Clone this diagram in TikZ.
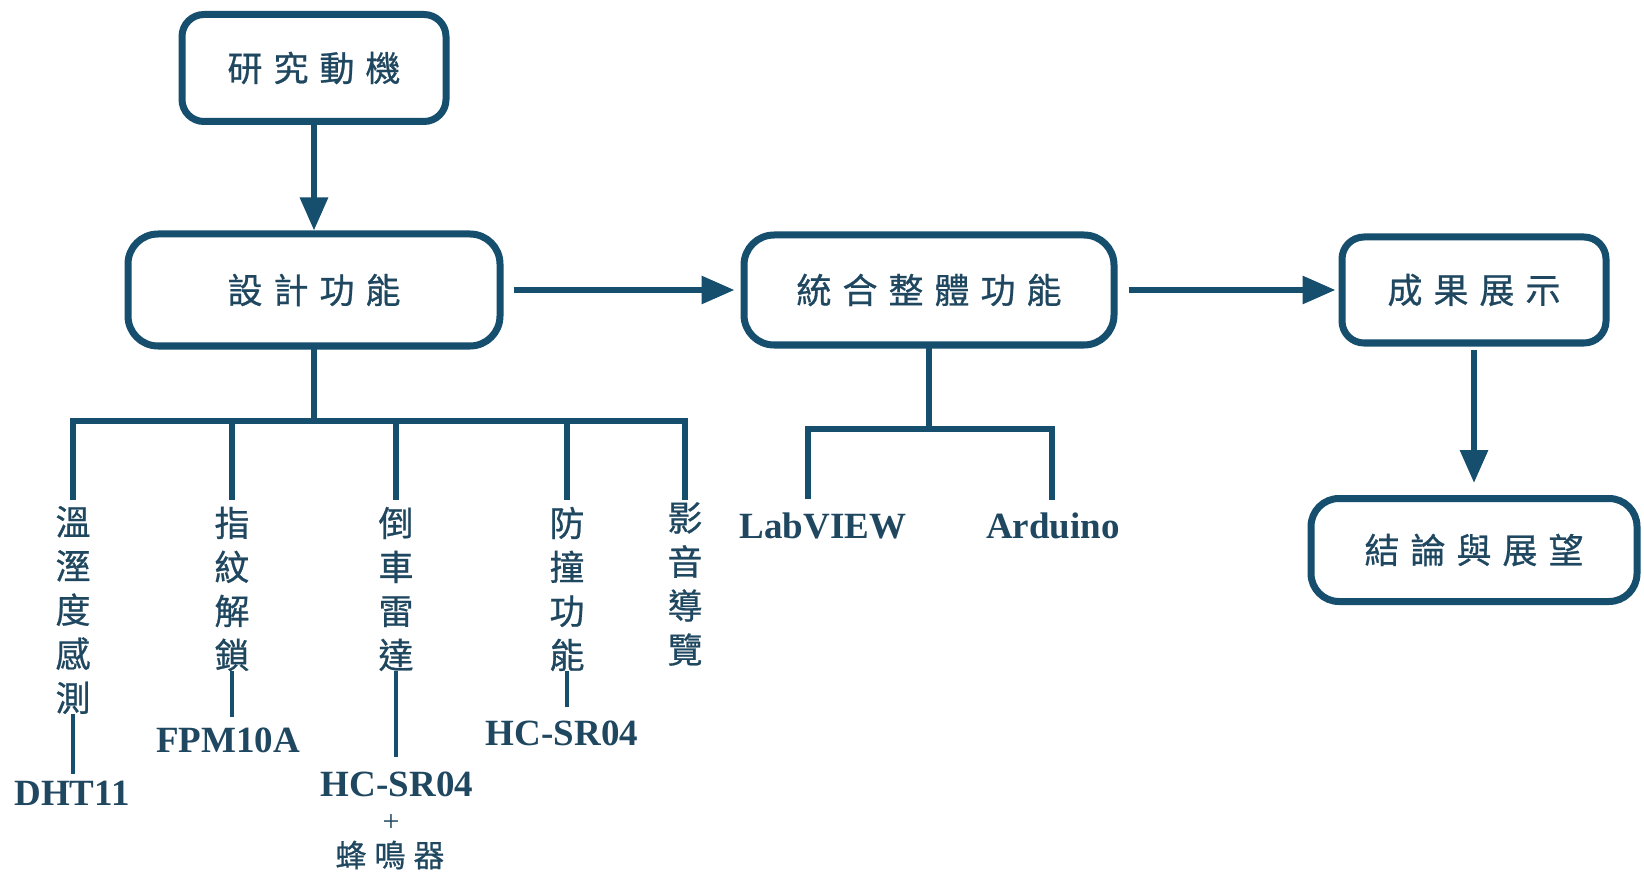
\documentclass[tikz,border=0pt]{standalone}
\usepackage{fontspec}
\setmainfont{Liberation Serif}
\newfontfamily\cjk[FakeBold=0.7]{Noto Sans CJK TC}
\usetikzlibrary{arrows.meta}
\definecolor{ink}{HTML}{164E6E}
\definecolor{txt}{HTML}{1F4760}
\newcommand\gp{\hspace{11pt}}
\begin{document}
\begin{tikzpicture}[x=1pt,y=-1pt,
  box/.style={draw=ink, line width=7pt, rounded corners=22pt, fill=white, text=txt, font=\cjk\fontsize{35}{35}\selectfont, inner sep=0pt},
  arr/.style={draw=ink, line width=6pt, -{Triangle[length=33pt,width=27pt]}},
  tree/.style={draw=ink, line width=6pt, line cap=rect},
  thinln/.style={draw=ink, line width=3.5pt},
  col/.style={text=txt, font=\cjk\fontsize{35}{44}\selectfont, align=center, inner sep=0pt},
  lbl/.style={text=txt, font=\bfseries\fontsize{37}{37}\selectfont, inner sep=0pt},
]
\useasboundingbox[fill=white] (0,0) rectangle (1644,877);

% main boxes
\node[box, minimum width=264pt, minimum height=107pt] (motive) at (314,68) {研\gp 究\gp 動\gp 機};
\node[box, rounded corners=30pt, minimum width=372pt, minimum height=112pt] (design) at (314,290) {設\gp 計\gp 功\gp 能};
\node[box, rounded corners=30pt, minimum width=370pt, minimum height=110pt] (integ) at (929,290) {統\gp 合\gp 整\gp 體\gp 功\gp 能};
\node[box, minimum width=264pt, minimum height=106pt] (result) at (1474,290) {成\gp 果\gp 展\gp 示};
\node[box, rounded corners=28pt, minimum width=326pt, minimum height=103pt] (concl) at (1474,550) {結\gp 論\gp 與\gp 展\gp 望};

% arrows
\draw[arr] (motive.south) -- (design.north);
\draw[arr, shorten <=10pt, shorten >=6pt] (design.east) -- (integ.west);
\draw[arr, shorten <=11pt, shorten >=3pt] (integ.east) -- (result.west);
\draw[arr, shorten <=3pt, shorten >=12pt] (result.south) -- (concl.north);

% design sub-functions
\node[col] (col1) at (73,610) {溫\\溼\\度\\感\\測};
\node[col] (col2) at (232,589) {指\\紋\\解\\鎖};
\node[col] (col3) at (396,589) {倒\\車\\雷\\達};
\node[col] (col4) at (567,589) {防\\撞\\功\\能};
\node[col] (col5) at (685,584) {影\\音\\導\\覽};

\coordinate (busy) at (0,421);
\coordinate (brend) at (0,497);
\draw[tree] (design.south) -- (design.south |- busy);
\draw[tree] (col1.north |- busy) -- (col5.north |- busy);
\foreach \c in {col1,col2,col3,col4,col5}
  \draw[tree] (\c.north |- busy) -- (\c.north |- brend);

% components
\node[lbl] (dht) at (72,793) {DHT11};
\node[lbl] (fpm) at (228,740) {FPM10A};
\node[lbl] (hc1) at (397,784) {HC-SR04};
\node[text=txt, font=\fontsize{30}{30}\selectfont, inner sep=0pt] (plus) at (391,823) {+};
\node[text=txt, font=\cjk\fontsize{31}{31}\selectfont, inner sep=0pt] (buzz) at (390,855) {蜂\hspace{8pt}鳴\hspace{8pt}器};
\node[lbl] (hc2) at (562,733) {HC-SR04};

\draw[thinln, shorten >=7pt] (col1.south) -- (col1.south |- dht.north);
\draw[thinln, shorten >=10pt] (col2.south) -- (col2.south |- fpm.north);
\draw[thinln, shorten >=14pt] (col3.south) -- (col3.south |- hc1.north);
\draw[thinln, shorten >=13pt] (col4.south) -- (col4.south |- hc2.north);

% integration tree
\node[lbl] (lab) at (823,526) {LabVIEW};
\node[lbl] (ard) at (1053,526) {Arduino};
\coordinate (ibus) at (0,429);
\coordinate (labtop) at (808,496);
\coordinate (ardtop) at (1052,497);
\draw[tree] (integ.south) -- (integ.south |- ibus);
\draw[tree] (labtop) |- (ibus -| ardtop) -- (ardtop);
\end{tikzpicture}
\end{document}
